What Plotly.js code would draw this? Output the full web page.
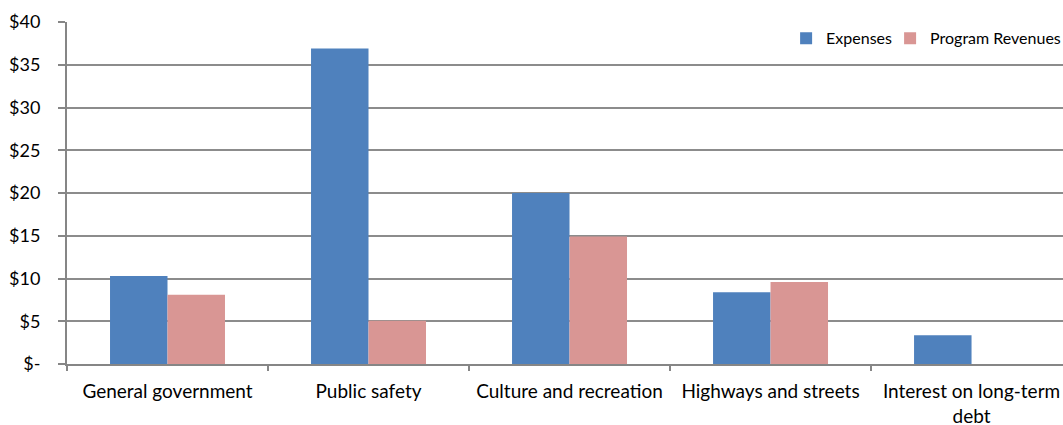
<!DOCTYPE html>
<html>
<head>
<meta charset="utf-8">
<script src="https://cdn.plot.ly/plotly-3.0.1.min.js"></script>
<style>html,body{margin:0;padding:0;background:#fff;}#chart{width:1063px;height:425px;}</style>
</head>
<body>
<div id="chart"></div>
<script>
var categories = ["General government", "Public safety", "Culture and recreation", "Highways and streets", "Interest on long-term<br>debt"];
var expenses = [10.3, 36.9, 20.0, 8.4, 3.35];
var programRevenues = [8.1, 5.05, 14.9, 9.6, 0];
var yTickVals = [0, 5, 10, 15, 20, 25, 30, 35, 40];
var yTickText = ["$-", "$5", "$10", "$15", "$20", "$25", "$30", "$35", "$40"];

var font = "Lato, 'Open Sans', sans-serif";
var traces = [
  {type: "bar", name: "Expenses", x: categories, y: expenses, marker: {color: "#4F81BD"}, legend: "legend"},
  {type: "bar", name: "Program Revenues", x: categories, y: programRevenues, marker: {color: "#D99694"}, legend: "legend2"}
];
var legendBase = {orientation: "h", xanchor: "left", y: 1.002, yanchor: "top", font: {family: font, size: 16, color: "#000"},
  itemwidth: 30, bgcolor: "rgba(0,0,0,0)", borderwidth: 0};
var layout = {
  width: 1063, height: 425,
  margin: {l: 67, r: 0, t: 22, b: 61, pad: 0, autoexpand: false},
  paper_bgcolor: "#fff", plot_bgcolor: "#fff",
  barmode: "group", bargap: 0.428, bargroupgap: 0,
  font: {family: font, size: 18, color: "#000"},
  showlegend: true,
  legend: Object.assign({}, legendBase, {x: 0.722}),
  legend2: Object.assign({}, legendBase, {x: 0.8264}),
  xaxis: {type: "category", range: [-0.5, 4.455], showgrid: false, showline: true, linecolor: "#868686", linewidth: 2,
    ticks: "outside", tickson: "boundaries", ticklen: 5, tickcolor: "#868686", tickwidth: 2, zeroline: false,
    ticklabelstandoff: 9, automargin: false,
    tickfont: {family: font, size: 19, color: "#000"}},
  yaxis: {range: [0, 40], tickvals: yTickVals, ticktext: yTickText, showgrid: true, gridcolor: "#8c8c8c", gridwidth: 2,
    showline: true, linecolor: "#868686", linewidth: 2, ticks: "outside", ticklen: 7, tickcolor: "#868686", tickwidth: 2,
    zeroline: false, ticklabelstandoff: 14, automargin: false, tickfont: {family: font, size: 18, color: "#000"}}
};
Plotly.newPlot("chart", traces, layout, {displayModeBar: false, staticPlot: true});
</script>
</body>
</html>
